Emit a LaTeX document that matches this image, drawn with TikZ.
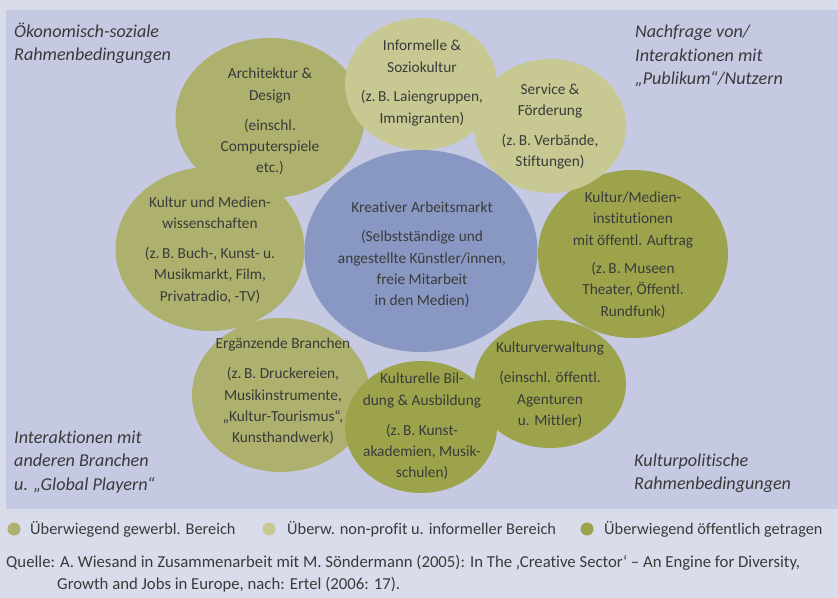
\documentclass[tikz,border=0pt]{standalone}
\usepackage{fontspec}
\setmainfont{Carlito}[Ligatures=NoCommon]
\usetikzlibrary{shapes.geometric}
\definecolor{outerbg}{HTML}{D9DDEB}
\definecolor{panel}{HTML}{C5CAE2}
\definecolor{gewerbl}{HTML}{AEB06D}
\definecolor{nonprofit}{HTML}{C8C893}
\definecolor{public}{HTML}{9DA34B}
\definecolor{centre}{HTML}{8898C2}
\definecolor{txt}{HTML}{3A3A3A}
\begin{document}
\begin{tikzpicture}[x=1bp,y=-1bp,
  blob/.style={ellipse, inner sep=0pt, draw=none},
  lbl/.style={align=center, inner sep=0pt, text=txt, font=\fontsize{15.4}{21.5}\selectfont},
  corner/.style={align=left, inner sep=0pt, text=txt, font=\fontsize{18.2}{23.5}\selectfont\itshape},
  legdot/.style={circle, inner sep=0pt, minimum size=13bp, draw=none},
  legtxt/.style={anchor=west, inner sep=0pt, text=txt, font=\fontsize{16.4}{22}\selectfont},
  srctxt/.style={anchor=west, inner sep=0pt, text=txt, font=\fontsize{16.8}{22}\selectfont}]
\useasboundingbox (0,0) rectangle (838,598);
\fill[outerbg] (0,0) rectangle (838,598);
\fill[panel] (6,10) rectangle (838,509);

% ellipses
\node[blob, fill=gewerbl, minimum width=189bp, minimum height=160bp] (arch) at (270,118) {};
\node[blob, fill=gewerbl, minimum width=189bp, minimum height=164bp] (kmw) at (210,249) {};
\node[blob, fill=gewerbl, minimum width=178bp, minimum height=154bp] (erg) at (281,395) {};
\node[blob, fill=public, minimum width=190bp, minimum height=168bp] (inst) at (633,254) {};
\node[blob, fill=public, minimum width=152bp, minimum height=128bp] (verw) at (550,384) {};
\node[blob, fill=public, minimum width=152bp, minimum height=132bp] (bild) at (421,427) {};
\node[blob, fill=nonprofit, minimum width=152bp, minimum height=132bp] (info) at (421,84) {};
\node[blob, fill=nonprofit, minimum width=152bp, minimum height=134bp] (serv) at (550,126) {};
\node[blob, fill=centre, minimum width=233bp, minimum height=202bp] (mid) at (421,251) {};

% texts
\node[lbl] (tarch) at (270,121.5) {Architektur \&\\Design\\[8.5bp](einschl.\\Computerspiele\\etc.)};
\node[lbl] (tinfo) at (422,83) {Informelle \&\\Soziokultur\\[8.5bp](z.\,B. Laiengruppen,\\Immigranten)};
\node[lbl] (tserv) at (550,126.5) {Service \&\\Förderung\\[8.5bp](z.\,B. Verbände,\\Stiftungen)};
\node[lbl] (tinst) at (633,255) {Kultur/Medien-\\institutionen\\mit öffentl. Auftrag\\[6.5bp](z.\,B. Museen\\Theater, Öffentl.\\Rundfunk)};
\node[lbl] (tverw) at (550,385) {Kulturverwaltung\\[8.5bp](einschl. öffentl.\\Agenturen\\u. Mittler)};
\node[lbl] (tbild) at (422,426.5) {Kulturelle Bil-\\dung \& Ausbildung\\[8.5bp](z.\,B. Kunst-\\akademien, Musik-\\schulen)};
\node[lbl] (terg) at (283,391.5) {Ergänzende Branchen\\[8.5bp](z.\,B. Druckereien,\\Musikinstrumente,\\„Kultur-Tourismus“,\\Kunsthandwerk)};
\node[lbl] (tkmw) at (210,250) {Kultur und Medien-\\wissenschaften\\[8.5bp](z.\,B. Buch-, Kunst- u.\\Musikmarkt, Film,\\Privatradio, -TV)};
\node[lbl] (tmid) at (422,255) {Kreativer Arbeitsmarkt\\[7.5bp](Selbstständige und\\angestellte Künstler/innen,\\freie Mitarbeit\\in den Medien)};

% corner texts
\node[corner, anchor=west] (ctl) at (14,43.5) {Ökonomisch-soziale\\Rahmenbedingungen};
\node[corner, anchor=west] (ctr) at (635,56) {Nachfrage von/\\Interaktionen mit\\„Publikum“/Nutzern};
\node[corner, anchor=west] (cbl) at (14,462) {Interaktionen mit\\anderen Branchen\\u. „Global Playern“};
\node[corner, anchor=west] (cbr) at (634,473.5) {Kulturpolitische\\Rahmenbedingungen};

% legend
\node[legdot, fill=gewerbl] (d1) at (14,529) {};
\node[legtxt] (l1) at (30,529) {Überwiegend gewerbl. Bereich};
\node[legdot, fill=nonprofit] (d2) at (269,529) {};
\node[legtxt] (l2) at (287,529) {Überw. non-profit u. informeller Bereich};
\node[legdot, fill=public] (d3) at (587,529) {};
\node[legtxt] (l3) at (604,529) {Überwiegend öffentlich getragen};

% source
\node[srctxt] (s1) at (6,563) {Quelle: A. Wiesand in Zusammenarbeit mit M. Söndermann (2005): In The ‚Creative Sector‘ – An Engine for Diversity,};
\node[srctxt] (s2) at (57,585) {Growth and Jobs in Europe, nach: Ertel (2006: 17).};
\end{tikzpicture}
\end{document}
